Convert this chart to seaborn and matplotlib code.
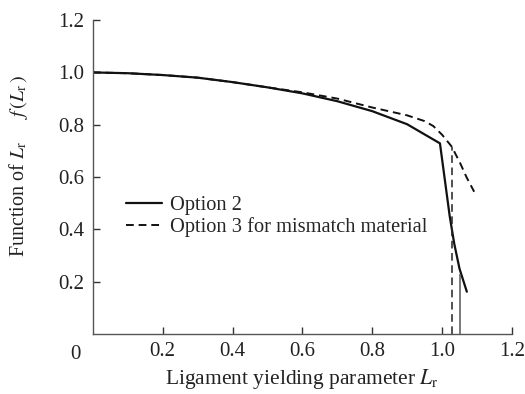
import matplotlib
matplotlib.use("Agg")
import matplotlib.pyplot as plt
import numpy as np
import pandas as pd
import seaborn as sns

# values
lr_opt2 = [0.0, 0.1, 0.2, 0.3, 0.4, 0.5, 0.6, 0.7, 0.8, 0.9, 0.994, 1.022, 1.035, 1.05, 1.071]
f_opt2 = [1.0, 0.997, 0.99, 0.98, 0.963, 0.943, 0.92, 0.89, 0.852, 0.802, 0.729, 0.45, 0.345, 0.25, 0.162]

lr_opt3 = [0.0, 0.1, 0.2, 0.3, 0.4, 0.5, 0.6, 0.7, 0.8, 0.9, 0.95, 0.975, 1.0, 1.028, 1.052, 1.07, 1.092]
f_opt3 = [1.0, 0.997, 0.99, 0.98, 0.963, 0.943, 0.924, 0.9, 0.866, 0.836, 0.814, 0.795, 0.762, 0.716, 0.653, 0.60, 0.544]

# cut-off lines (Lr_max) and the heights where they meet the curves
cutoff_x = [1.028, 1.052]
cutoff_top = [0.716, 0.23]
cutoff_style = [(0, (5, 3)), "-"]
cutoff_color = ["#222222", "#555555"]

x_ticks = [0.2, 0.4, 0.6, 0.8, 1.0, 1.2]
y_ticks = [0.2, 0.4, 0.6, 0.8, 1.0, 1.2]

sns.set_theme(style="ticks")
plt.rcParams["font.family"] = ["Liberation Serif", "DejaVu Serif"]
plt.rcParams["mathtext.fontset"] = "stix"

fig = plt.figure(figsize=(5.25, 3.94), dpi=100)
ax = fig.add_axes([0.177, 0.152, 0.798, 0.797])

df2 = pd.DataFrame({"Lr": lr_opt2, "f": f_opt2})
df3 = pd.DataFrame({"Lr": lr_opt3, "f": f_opt3})

sns.lineplot(data=df2, x="Lr", y="f", sort=False, color="#111111", lw=1.6,
             label="Option 2", ax=ax)
sns.lineplot(data=df3, x="Lr", y="f", sort=False, color="#111111", lw=1.4,
             linestyle=(0, (4, 2.5)),
             label="Option 3 for mismatch material", ax=ax)

for cx, ct, ls, c in zip(cutoff_x, cutoff_top, cutoff_style, cutoff_color):
    ax.vlines(cx, 0, ct, colors=c, linestyles=ls, lw=1.1)

ax.set_xlim(0, 1.2)
ax.set_ylim(0, 1.2)
ax.set_xticks(x_ticks)
ax.set_yticks(y_ticks)
ax.set_xticklabels([f"{t:.1f}" for t in x_ticks])
ax.set_yticklabels([f"{t:.1f}" for t in y_ticks])
ax.tick_params(direction="in", length=5, width=1, colors="#333333",
               labelsize=15, labelcolor="#222222", pad=6)
ax.text(-0.03, -0.035, "0", transform=ax.transAxes, ha="right", va="top",
        fontsize=15, color="#222222")

for s in ["left", "bottom"]:
    ax.spines[s].set_color("#555555")
    ax.spines[s].set_linewidth(1.0)
sns.despine(ax=ax)

ax.set_xlabel(r"Ligament yielding parameter $\mathit{L}_\mathrm{r}$",
              fontsize=15.5, color="#222222", labelpad=4)
ax.set_ylabel(r"Function of $\mathit{L}_\mathrm{r}$     $f\,(\mathit{L}_\mathrm{r}\,)$",
              fontsize=14.5, color="#222222")
ax.yaxis.set_label_coords(-0.15, 0.535)

leg = ax.legend(loc="center left", bbox_to_anchor=(0.079, 0.374), frameon=False,
                fontsize=14.7, handlelength=1.75, handletextpad=0.4,
                labelspacing=0.12, borderpad=0, borderaxespad=0)

fig.savefig("out.png", dpi=100)
